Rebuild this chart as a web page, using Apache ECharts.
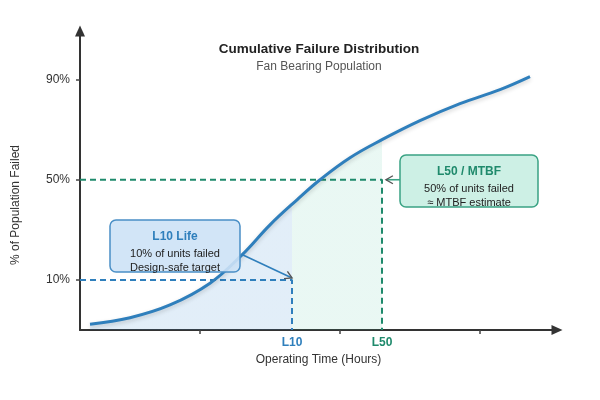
<!DOCTYPE html>
<html>
<head>
<meta charset="utf-8">
<script src="https://cdn.jsdelivr.net/npm/echarts@6/dist/echarts.min.js"></script>
<style>
html,body{margin:0;padding:0;background:#fff}
#main{width:600px;height:400px}
</style>
</head>
<body>
<div id="main"></div>
<script>
// 运行时间(小时) 与 累计失效比例(%)
var hours = [1000, 5000, 9000, 13000, 16200, 19000, 21700, 24000, 27000, 30200, 34000, 38000, 42000, 45000];
var failedPct = [-7.7, -5.1, 0, 8.7, 20, 32, 42, 50, 58.8, 66, 73.6, 80.4, 86, 91.2];
var yTickValues = [10, 50, 90];
var xTickValues = [12000, 26000, 40000];
var L10_HOURS = 21200, L10_PCT = 10;
var L50_HOURS = 30200, L50_PCT = 50;
var X_MIN = 0, X_MAX = 47700, Y_MIN = -10, Y_MAX = 109.4;

var FONT = 'Arial, "Liberation Sans", sans-serif';
var BLUE = '#2f7fbc';
var GREEN = '#1f8a6c';

var _main = document.getElementById('main');
var myChart = echarts.init(_main);

var curveData = [];
for (var i = 0; i < hours.length; i++) {
    curveData.push([hours[i], failedPct[i]]);
}

var option = {
    animation: false,
    textStyle: {fontFamily: FONT},
    grid: {left: 80, right: 43, top: 31, bottom: 70},
    xAxis: {
        type: 'value',
        min: X_MIN,
        max: X_MAX,
        splitLine: {show: false},
        axisLine: {
            show: true,
            onZero: false,
            symbol: ['none', 'triangle'],
            symbolSize: [10, 11],
            lineStyle: {color: '#333', width: 2}
        },
        axisTick: {
            show: true,
            customValues: xTickValues,
            length: 4,
            lineStyle: {color: '#444', width: 1.5}
        },
        axisLabel: {
            customValues: [L10_HOURS, L50_HOURS],
            margin: 7,
            formatter: function (v) {
                return v === L10_HOURS ? '{a|L10}' : '{b|L50}';
            },
            rich: {
                a: {color: BLUE, fontWeight: 'bold', fontSize: 12, fontFamily: FONT},
                b: {color: GREEN, fontWeight: 'bold', fontSize: 12, fontFamily: FONT}
            }
        },
        name: 'Operating Time (Hours)',
        nameLocation: 'middle',
        nameGap: 22,
        nameTextStyle: {color: '#333', fontSize: 12, fontFamily: FONT}
    },
    yAxis: {
        type: 'value',
        min: Y_MIN,
        max: Y_MAX,
        splitLine: {show: false},
        axisLine: {
            show: true,
            onZero: false,
            symbol: ['none', 'triangle'],
            symbolSize: [10, 11],
            lineStyle: {color: '#333', width: 2}
        },
        axisTick: {
            show: true,
            customValues: yTickValues,
            length: 4,
            lineStyle: {color: '#444', width: 1.5}
        },
        axisLabel: {
            customValues: yTickValues,
            margin: 10,
            color: '#333',
            fontSize: 12,
            formatter: '{value}%'
        }
    },
    visualMap: {
        show: false,
        type: 'piecewise',
        dimension: 0,
        seriesIndex: 0,
        pieces: [
            {lte: L10_HOURS, color: 'rgba(60,140,210,0.15)'},
            {gt: L10_HOURS, lte: L50_HOURS, color: 'rgba(60,190,150,0.11)'},
            {gt: L50_HOURS, color: 'rgba(255,255,255,0)'}
        ]
    },
    series: [
        {
            // 曲线下方的分段填充
            type: 'line',
            data: curveData,
            smooth: 0.4,
            showSymbol: false,
            silent: true,
            lineStyle: {width: 0, opacity: 0},
            areaStyle: {origin: 'start', opacity: 1},
            z: 1
        },
        {
            type: 'line',
            data: curveData,
            smooth: 0.4,
            showSymbol: false,
            lineStyle: {
                color: BLUE,
                width: 3,
                shadowColor: 'rgba(0,0,0,0.18)',
                shadowBlur: 4,
                shadowOffsetY: 2
            },
            z: 4
        },
        {
            // L10 参考虚线
            type: 'line',
            data: [[X_MIN, L10_PCT], [L10_HOURS, L10_PCT], [L10_HOURS, Y_MIN]],
            showSymbol: false,
            lineStyle: {color: BLUE, width: 2, type: [6, 4]},
            z: 3
        },
        {
            // L50 参考虚线
            type: 'line',
            data: [[X_MIN, L50_PCT], [L50_HOURS, L50_PCT], [L50_HOURS, Y_MIN]],
            showSymbol: false,
            lineStyle: {color: GREEN, width: 2, type: [6, 4]},
            z: 3
        }
    ]
};
myChart.setOption(option);

// 箭头: 直线 + 开口箭头
function arrowShapes(x1, y1, x2, y2, color) {
    var ang = Math.atan2(y2 - y1, x2 - x1);
    var len = 8, spread = Math.PI / 6;
    var pa = [x2 - len * Math.cos(ang - spread), y2 - len * Math.sin(ang - spread)];
    var pb = [x2 - len * Math.cos(ang + spread), y2 - len * Math.sin(ang + spread)];
    return [
        {type: 'line', shape: {x1: x1, y1: y1, x2: x2, y2: y2}, style: {stroke: color, lineWidth: 1.6}, z: 20},
        {type: 'polyline', shape: {points: [pa, [x2, y2], pb]}, style: {stroke: '#555', lineWidth: 1.4, fill: null}, z: 21}
    ];
}

function boxShapes(x, y, w, h, fill, stroke, title, titleColor, line1, line2) {
    return [
        {type: 'rect', shape: {x: x, y: y, width: w, height: h, r: 6},
            style: {fill: fill, stroke: stroke, lineWidth: 1.5}, z: 22},
        {type: 'text', x: x + w / 2, y: y + 17, z: 23,
            style: {text: title, fill: titleColor, font: 'bold 12px ' + FONT, align: 'center', verticalAlign: 'middle'}},
        {type: 'text', x: x + w / 2, y: y + 34, z: 23,
            style: {text: line1, fill: '#222', font: '11px ' + FONT, align: 'center', verticalAlign: 'middle'}},
        {type: 'text', x: x + w / 2, y: y + 48, z: 23,
            style: {text: line2, fill: '#222', font: '11px ' + FONT, align: 'center', verticalAlign: 'middle'}}
    ];
}

var p10 = myChart.convertToPixel({gridIndex: 0}, [L10_HOURS, L10_PCT]);
var p50 = myChart.convertToPixel({gridIndex: 0}, [L50_HOURS, L50_PCT]);

var elements = [
    {type: 'text', x: 319, y: 49, style: {text: 'Cumulative Failure Distribution', fill: '#222', font: 'bold 13.5px ' + FONT, align: 'center', verticalAlign: 'middle'}},
    {type: 'text', x: 319, y: 67, style: {text: 'Fan Bearing Population', fill: '#555', font: '12px ' + FONT, align: 'center', verticalAlign: 'middle'}},
    {type: 'text', x: 16, y: 205, rotation: Math.PI / 2, style: {text: '% of Population Failed', fill: '#333', font: '12px ' + FONT, align: 'center', verticalAlign: 'middle'}}
];
elements = elements
    .concat(arrowShapes(243, 255, p10[0], p10[1] - 2, BLUE))
    .concat(boxShapes(110, 220, 130, 52, 'rgba(205,226,246,0.9)', '#4a8fc6', 'L10 Life', BLUE, '10% of units failed', 'Design-safe target'))
    .concat(arrowShapes(400, p50[1], p50[0] + 4, p50[1], '#3aa384'))
    .concat(boxShapes(400, 155, 138, 52, 'rgba(200,238,226,0.9)', '#3aa384', 'L50 / MTBF', GREEN, '50% of units failed', '\u2248 MTBF estimate'));

myChart.setOption({graphic: {elements: elements}});

window.onresize = function () {
    myChart.resize();
};
</script>
</body>
</html>
